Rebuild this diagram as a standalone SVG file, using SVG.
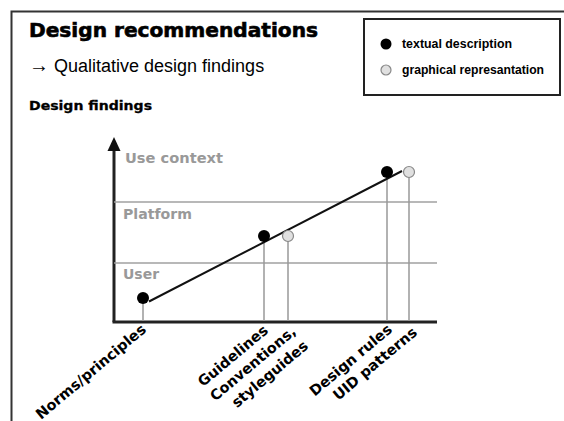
<svg xmlns="http://www.w3.org/2000/svg" width="564" height="421" viewBox="0 0 564 421">
  <defs>
    <style>
      .frame { stroke: #333; stroke-width: 2; fill: none; }
      .axis { stroke: #222; stroke-width: 3; fill: none; }
      .band { stroke: #a0a0a0; stroke-width: 1.5; fill: none; }
      .drop { stroke: #999; stroke-width: 1.5; fill: none; }
      .trend { stroke: #111; stroke-width: 2; fill: none; }
      .dot-text { fill: #000; }
      .dot-graph { fill: #e0e0e0; stroke: #888; stroke-width: 1.2; }
      .title { font-family: "DejaVu Sans", Verdana, sans-serif; font-weight: bold; font-size: 19px; fill: #000; stroke: #000; stroke-width: 0.6; }
      .sub { font-family: "Liberation Sans", Arial, sans-serif; font-size: 18px; fill: #000; }
      .head { font-family: "DejaVu Sans", Verdana, sans-serif; font-weight: bold; font-size: 12px; fill: #000; stroke: #000; stroke-width: 0.3; }
      .legend { font-family: "Liberation Sans", Arial, sans-serif; font-weight: bold; font-size: 12.5px; fill: #000; }
      .level { font-family: "DejaVu Sans", Verdana, sans-serif; font-weight: bold; font-size: 14px; fill: #999; }
      .tick { font-family: "DejaVu Sans", Verdana, sans-serif; font-weight: bold; font-size: 14.5px; fill: #000; text-anchor: end; }
    </style>
  </defs>

  <!-- slide frame -->
  <path class="frame" d="M11.5 421 V11.5 H564"/>

  <!-- headings -->
  <text class="title" x="29" y="37" textLength="289" lengthAdjust="spacingAndGlyphs">Design recommendations</text>
  <text class="sub" x="29" y="72"><tspan font-size="20">→</tspan> Qualitative design findings</text>
  <text class="head" x="29" y="110" textLength="123" lengthAdjust="spacingAndGlyphs">Design findings</text>

  <!-- legend -->
  <g id="legend">
    <rect x="364" y="19" width="196" height="76" fill="#fff" stroke="#222" stroke-width="2"/>
    <circle class="dot-text" cx="386" cy="44" r="5.5"/>
    <text class="legend" x="402" y="48" textLength="110" lengthAdjust="spacingAndGlyphs">textual description</text>
    <circle class="dot-graph" cx="386" cy="70" r="5"/>
    <text class="legend" x="402" y="74" textLength="142" lengthAdjust="spacingAndGlyphs">graphical represantation</text>
  </g>

  <!-- chart axes and level bands -->
  <g id="axes">
    <line class="axis" x1="114" y1="148" x2="114" y2="322"/>
    <polygon points="114,137 107.5,151 120.5,151" fill="#111"/>
    <line class="axis" x1="112.5" y1="322" x2="437" y2="322"/>
    <line class="band" x1="114" y1="202" x2="437" y2="202"/>
    <line class="band" x1="114" y1="263" x2="437" y2="263"/>
  </g>

  <g id="levels">
    <text class="level" x="125" y="163" textLength="98" lengthAdjust="spacingAndGlyphs">Use context</text>
    <text class="level" x="123" y="219" textLength="69" lengthAdjust="spacingAndGlyphs">Platform</text>
    <text class="level" x="123" y="279">User</text>
  </g>

  <!-- connectors: drop lines and trend line -->
  <g id="connectors">
    <line class="drop" x1="143" y1="298" x2="143" y2="321"/>
    <line class="drop" x1="264" y1="236" x2="264" y2="321"/>
    <line class="drop" x1="288" y1="236" x2="288" y2="321"/>
    <line class="drop" x1="387" y1="172" x2="387" y2="321"/>
    <line class="drop" x1="409" y1="172" x2="409" y2="321"/>
    <line class="trend" x1="149" y1="301.5" x2="402" y2="171"/>
  </g>

  <!-- finding points -->
  <g id="norms-principles">
    <circle class="dot-text" cx="143" cy="298" r="6"/>
    <text class="tick" transform="translate(147 331) rotate(-40)">Norms/principles</text>
  </g>
  <g id="guidelines">
    <circle class="dot-text" cx="264" cy="236" r="6"/>
    <text class="tick" transform="translate(269 332) rotate(-40)">Guidelines</text>
  </g>
  <g id="conventions">
    <circle class="dot-graph" cx="288" cy="236" r="5.5"/>
    <text class="tick" transform="translate(297 333) rotate(-40)">Conventions,<tspan x="0" dy="19">styleguides</tspan></text>
  </g>
  <g id="design-rules">
    <circle class="dot-text" cx="387" cy="172" r="6"/>
    <text class="tick" transform="translate(393 331) rotate(-40)">Design rules</text>
  </g>
  <g id="uid-patterns">
    <circle class="dot-graph" cx="409" cy="172" r="5.5"/>
    <text class="tick" transform="translate(418 334) rotate(-40)">UID patterns</text>
  </g>
</svg>
